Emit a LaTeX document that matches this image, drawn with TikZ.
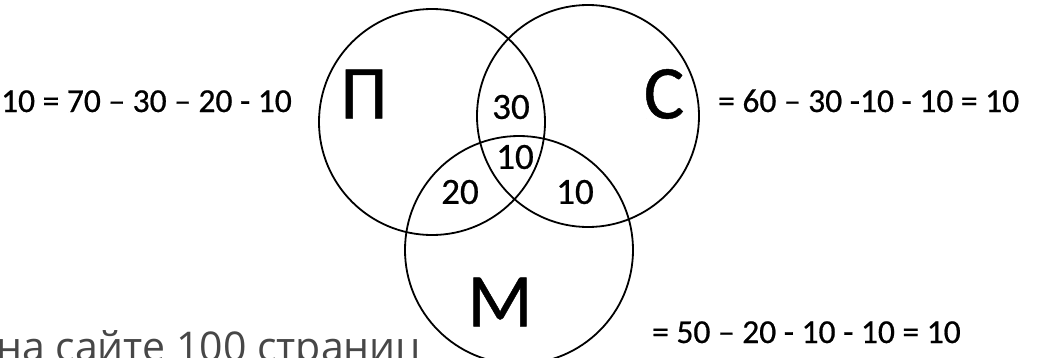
\documentclass[tikz,border=0pt]{standalone}
\usepackage{fontspec}
\setmainfont{Carlito}
\newfontfamily\heavy[FakeBold=0.6]{Carlito}
\newfontfamily\thinfont{Open Sans}
\begin{document}
\begin{tikzpicture}[x=1pt,y=-1pt,
  ring/.style={draw=black,line width=1.8pt},
  big/.style={font=\heavy\fontsize{76}{80}\selectfont,inner sep=0pt},
  num/.style={font=\heavy\fontsize{37}{40}\selectfont,inner sep=0pt},
  eq/.style={font=\heavy\fontsize{33.5}{38}\selectfont,inner sep=0pt}]
\useasboundingbox[fill=white] (0,0) rectangle (1037,357);
\draw[ring] (432,122) circle[radius=113];
\draw[ring] (588,116) circle[radius=111];
\draw[ring] (519,250) circle[radius=114];
\node[big] (p) at (364,94) {П};
\node[big] (c) at (664,94) {С};
\node[big] (m) at (500,302) {М};
\node[num] (n30) at (511,107) {30};
\node[num] (n10a) at (515,157) {10};
\node[num] (n20) at (460,192) {20};
\node[num] (n10b) at (575,192) {10};
\node[eq,anchor=base east] (le) at (292,112) {10 = 70 – 30 – 20 - 10};
\node[eq,anchor=base west] (re) at (718,112) {= 60 – 30 -10 - 10 = 10};
\node[eq,anchor=base west] (be) at (652,343) {= 50 – 20 - 10 - 10 = 10};
\node[font=\thinfont\fontsize{41}{44}\selectfont,text=black!72,inner sep=0pt,anchor=base west] (site) at (-4,361) {на сайте 100 страниц};
\end{tikzpicture}
\end{document}
